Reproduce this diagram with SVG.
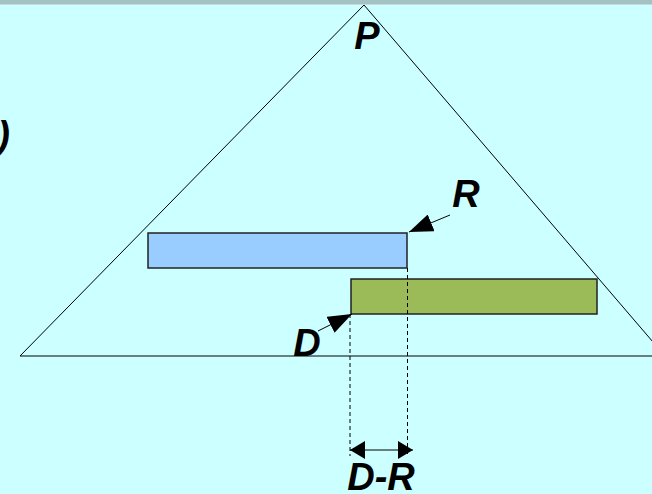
<svg xmlns="http://www.w3.org/2000/svg" width="652" height="494" viewBox="0 0 652 494">
<defs>
<style>
.lbl{font-family:"Liberation Sans",Arial,sans-serif;font-weight:bold;font-style:italic;font-size:38px;fill:#000}
.thin{stroke:#000;stroke-width:1;fill:none}
.dash{stroke:#000;stroke-width:1;stroke-dasharray:4,3;fill:none}
.box{stroke:#222;stroke-width:1.5}
</style>
<marker id="ah" viewBox="0 0 10 10" refX="10" refY="5" markerWidth="10" markerHeight="10" markerUnits="userSpaceOnUse" orient="auto-start-reverse">
<path d="M0,0 L10,5 L0,10 Z" fill="#000"/>
</marker>
<marker id="big" viewBox="0 0 10 10" refX="10" refY="5" markerWidth="24" markerHeight="18" markerUnits="userSpaceOnUse" orient="auto" preserveAspectRatio="none">
<path d="M0,0 L10,5 L0,10 Z" fill="#000"/>
</marker>
<marker id="dr" viewBox="0 0 10 10" refX="10" refY="5" markerWidth="15" markerHeight="18" markerUnits="userSpaceOnUse" orient="auto-start-reverse" preserveAspectRatio="none">
<path d="M0,0 L10,5 L0,10 Z" fill="#000"/>
</marker>
</defs>
<rect x="0" y="0" width="652" height="494" fill="#CCFFFF"/>
<rect x="0" y="0" width="652" height="3" fill="#9fc4c4"/>
<rect x="0" y="3" width="652" height="1.5" fill="#b8b8c0"/>
<g id="triangle">
<polyline class="thin" points="20,356 364,5 665,356"/>
<line class="thin" x1="20" y1="356" x2="652" y2="356"/>
</g>
<g id="rectR">
<rect class="box" x="148" y="233" width="259" height="35" fill="#99CCFF"/>
</g>
<g id="rectD">
<rect class="box" x="351" y="279" width="246" height="35" fill="#9BBB59"/>
</g>
<g id="connectors">
<line class="dash" x1="350" y1="314" x2="350" y2="456"/>
<line class="dash" x1="407.5" y1="268" x2="407.5" y2="456"/>
<line class="thin" x1="350" y1="450" x2="413" y2="450" marker-start="url(#dr)" marker-end="url(#dr)"/>
<line class="thin" x1="450" y1="215" x2="409" y2="232" marker-end="url(#big)"/>
<line class="thin" x1="318" y1="331" x2="352" y2="314" marker-end="url(#big)"/>
</g>
<g id="labels">
<text class="lbl" x="367" y="49" text-anchor="middle">P</text>
<text class="lbl" x="466" y="207" text-anchor="middle">R</text>
<text class="lbl" x="307" y="356" text-anchor="middle">D</text>
<text class="lbl" x="381" y="490" text-anchor="middle">D-R</text>
<text class="lbl" x="10" y="148" text-anchor="end">)</text>
</g>
</svg>
